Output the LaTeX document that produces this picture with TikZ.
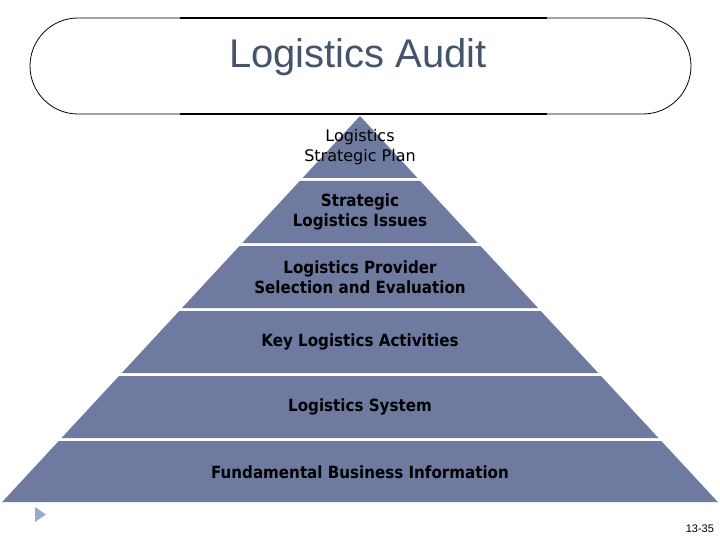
\documentclass[tikz,border=0pt]{standalone}
\usepackage{fontspec}
\setmainfont{DejaVu Sans}
\newfontfamily\titlefont{Liberation Sans}
\newfontfamily\bandfont{DejaVu Sans Condensed}
\definecolor{bandblue}{RGB}{111,122,160}
\definecolor{titleblue}{RGB}{68,84,106}
\definecolor{bulletblue}{RGB}{150,172,200}
\tikzset{
  band/.style={fill=bandblue},
  bandtext/.style={align=center, inner sep=0pt, text=black,
    font=\bandfont\fontsize{16.8}{19.5}\selectfont\bfseries},
  toptext/.style={align=center, inner sep=0pt, text=black,
    font=\fontsize{16}{19.5}\selectfont}
}
\begin{document}
\begin{tikzpicture}[x=1pt, y=-1pt]
    \useasboundingbox (0,0) rectangle (720,540);

        % Draw the title box
    \draw[line width=0.8pt, rounded corners=48pt] (30,18) rectangle (691,114);
    \draw[line width=1.8pt] (180,18) -- (547,18);
    \draw[line width=1.8pt] (180,114) -- (547,114);
    \node[font=\titlefont\fontsize{40}{44}\selectfont, text=titleblue, anchor=base] (audit) at (358,68) {Logistics Audit};

        % Draw the pyramid bands
    \foreach \t/\b in {116/178, 181/243, 246/308, 311/373, 376/438, 441/502} {
      \fill[band] ({360-(\t-116)*0.927},\t) -- ({360+(\t-116)*0.927},\t)
        -- ({360+(\b-116)*0.927},\b) -- ({360-(\b-116)*0.927},\b) -- cycle;
    }

        % Label the bands
    \node[toptext] (plan) at (360,147) {Logistics\\Strategic Plan};
    \node[bandtext] (issues) at (360,212) {Strategic\\Logistics Issues};
    \node[bandtext] (provider) at (360,277) {Logistics Provider\\Selection and Evaluation};
    \node[bandtext] (activities) at (360,342) {Key Logistics Activities};
    \node[bandtext] (system) at (360,407) {Logistics System};
    \node[bandtext] (info) at (360,472) {Fundamental Business Information};

        % Slide marker and page number
    \fill[bulletblue] (35,507) -- (46,514.5) -- (35,522) -- cycle;
    \node[font=\titlefont\fontsize{11}{12}\selectfont, anchor=east] (page) at (717.5,529) {13-35};
\end{tikzpicture}
\end{document}
